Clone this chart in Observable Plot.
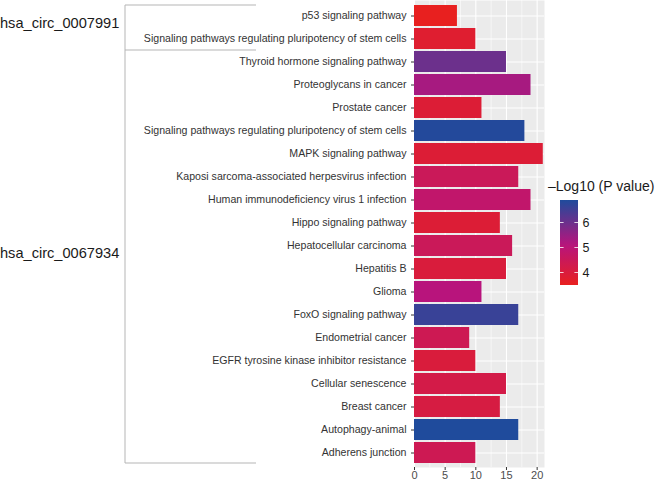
<!DOCTYPE html>
<html><head><meta charset="utf-8">
<script src="https://cdn.jsdelivr.net/npm/d3@7"></script>
<script src="https://cdn.jsdelivr.net/npm/@observablehq/plot@0.6"></script>
<style>
body{margin:0;background:#fff;}
#chart{position:relative;width:656px;height:480px;overflow:hidden;}
</style>
</head><body><div id="chart"></div>
<script>
const groups = [
  "hsa_circ_0007991","hsa_circ_0007991",
  "hsa_circ_0067934","hsa_circ_0067934","hsa_circ_0067934","hsa_circ_0067934","hsa_circ_0067934",
  "hsa_circ_0067934","hsa_circ_0067934","hsa_circ_0067934","hsa_circ_0067934","hsa_circ_0067934",
  "hsa_circ_0067934","hsa_circ_0067934","hsa_circ_0067934","hsa_circ_0067934","hsa_circ_0067934",
  "hsa_circ_0067934","hsa_circ_0067934","hsa_circ_0067934"
];
const pathways = [
  "p53 signaling pathway",
  "Signaling pathways regulating pluripotency of stem cells",
  "Thyroid hormone signaling pathway",
  "Proteoglycans in cancer",
  "Prostate cancer",
  "Signaling pathways regulating pluripotency of stem cells",
  "MAPK signaling pathway",
  "Kaposi sarcoma-associated herpesvirus infection",
  "Human immunodeficiency virus 1 infection",
  "Hippo signaling pathway",
  "Hepatocellular carcinoma",
  "Hepatitis B",
  "Glioma",
  "FoxO signaling pathway",
  "Endometrial cancer",
  "EGFR tyrosine kinase inhibitor resistance",
  "Cellular senescence",
  "Breast cancer",
  "Autophagy-animal",
  "Adherens junction"
];
const counts = [7,10,15,19,11,18,21,17,19,14,16,15,11,17,9,10,15,14,17,10];
const logP = [3.5,3.8,6.0,5.3,3.9,6.85,3.9,4.5,4.8,3.9,4.5,4.0,5.1,6.6,4.4,4.0,4.2,4.1,6.9,4.4];
const groupNames = ["hsa_circ_0007991","hsa_circ_0067934"];
const xTicks = [0,5,10,15,20];
const xMinor = [2.5,7.5,12.5,17.5];
const legendTicks = [4,5,6];
const legendTitle = "\u2013Log10 (P value)";

(function(){
const data = pathways.map((p,i)=>({key:String(i), pathway:p, group:groups[i], count:counts[i], logp:logP[i]}));
const keys = data.map(d=>d.key);
const FONT = "'Liberation Sans', Arial, Helvetica, sans-serif";

const plot = Plot.plot({
  width:656, height:480,
  marginLeft:414, marginRight:112, marginTop:0, marginBottom:13,
  style:{fontFamily:FONT, background:"#fff", overflow:"visible"},
  x:{domain:[0,21.2], label:null},
  y:{domain:keys, paddingInner:0.1, paddingOuter:0.07, align:0.5, label:null},
  color:{type:"linear", domain:[3.5,5.1,6.9], range:["#e8201f","#b8147c","#1f4b9c"], interpolate:"rgb"},
  marks:[
    Plot.frame({fill:"#ebebeb", stroke:null}),
    Plot.gridX(xMinor, {stroke:"#fff", strokeOpacity:1, strokeWidth:0.55}),
    Plot.gridX(xTicks, {stroke:"#fff", strokeOpacity:1, strokeWidth:1.1}),
    Plot.gridY(keys, {stroke:"#fff", strokeOpacity:1, strokeWidth:1.1}),
    Plot.barX(data, {x:"count", y:"key", fill:"logp"}),
    Plot.axisX(xTicks, {tickSize:3, tickPadding:1, fontSize:11, fill:"#4d4d4d", stroke:"#333", label:null}),
    Plot.axisY(keys, {tickSize:3, tickPadding:5, fontSize:10.6, fill:"#333", stroke:"#333", label:null,
      tickFormat: k => pathways[+k]})
  ]
});
document.getElementById("chart").appendChild(plot);

const svg = d3.select(plot);
const ys = plot.scale("y");
const bw = ys.bandwidth;
const bandTop = k => ys.apply(k);
const bandBot = k => ys.apply(k) + bw;

// group bracket
const bx0 = 125, bx1 = 256;
const idxFirst = g => groups.indexOf(g);
const idxLast = g => groups.lastIndexOf(g);
const yTop = bandTop(keys[0]);
const yBottom = bandBot(keys[keys.length-1]);
const boundaries = [yTop];
for (let gi = 0; gi < groupNames.length - 1; gi++) {
  const a = idxLast(groupNames[gi]);
  boundaries.push((bandBot(keys[a]) + bandTop(keys[a+1])) / 2);
}
boundaries.push(yBottom);
const br = svg.append("g").attr("stroke","#b5b5b5").attr("stroke-width",1).attr("fill","none");
br.append("line").attr("x1",bx0).attr("x2",bx0).attr("y1",yTop).attr("y2",yBottom);
boundaries.forEach(y => br.append("line").attr("x1",bx0).attr("x2",bx1).attr("y1",y).attr("y2",y));
const tg = svg.append("g").attr("text-anchor","start").attr("font-family",FONT);
groupNames.forEach(g => {
  const c = (bandTop(keys[idxFirst(g)]) + bandBot(keys[idxLast(g)])) / 2 - 4;
  tg.append("text").attr("x",0).attr("y",c).attr("dy","0.36em")
    .attr("font-size",14.6).attr("fill","#1a1a1a").text(g);
});

// colour bar legend
const cs = plot.scale("color");
const lmin = d3.min(logP), lmax = d3.max(logP);
const lx = 560, lw = 18, ly0 = 200, ly1 = 285;
const ly = d3.scaleLinear().domain([lmin, lmax]).range([ly1, ly0]);
const defs = svg.append("defs");
const grad = defs.append("linearGradient").attr("id","cbar").attr("x1",0).attr("x2",0).attr("y1",1).attr("y2",0);
d3.range(0, 1.0001, 0.05).forEach(t => {
  const v = lmin + t*(lmax-lmin);
  grad.append("stop").attr("offset", t).attr("stop-color", cs.apply(v));
});
svg.append("rect").attr("x",lx).attr("y",ly0).attr("width",lw).attr("height",ly1-ly0).attr("fill","url(#cbar)");
legendTicks.forEach(v => {
  const y = ly(v);
  svg.append("line").attr("x1",lx).attr("x2",lx+3.6).attr("y1",y).attr("y2",y).attr("stroke","#fff").attr("stroke-width",0.8);
  svg.append("line").attr("x1",lx+lw-3.6).attr("x2",lx+lw).attr("y1",y).attr("y2",y).attr("stroke","#fff").attr("stroke-width",0.8);
  tg.append("text").attr("x",lx+lw+4.5).attr("y",y).attr("dy","0.36em")
    .attr("font-size",12.5).attr("fill","#1a1a1a").text(v);
});
tg.append("text").attr("x",548).attr("y",191).attr("font-size",14)
  .attr("fill","#1a1a1a").text(legendTitle);
})();
</script>
</body></html>
